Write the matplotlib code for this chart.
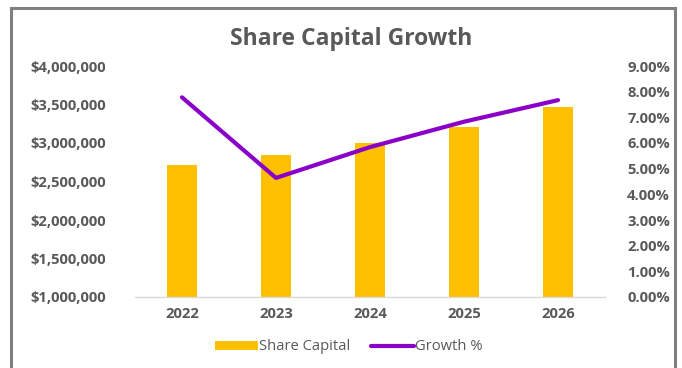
import numpy as np
import matplotlib.pyplot as plt
from matplotlib.patches import Rectangle
from matplotlib.ticker import FuncFormatter

years = ['2022', '2023', '2024', '2025', '2026']
share_capital = [2714000, 2844000, 3004000, 3210000, 3470000]
growth_pct = [7.78, 4.64, 5.84, 6.83, 7.67]

text_grey = '#595959'
plt.rcParams['font.family'] = ['Open Sans', 'DejaVu Sans']

fig = plt.figure(figsize=(6.82, 3.68), dpi=100)
fig.patch.set_facecolor('white')

# outer chart border
fig.patches.append(Rectangle((11 / 682, -0.05), 664 / 682, 1 - 8 / 368 + 0.05,
                             transform=fig.transFigure, fill=False,
                             edgecolor='#7f7f7f', linewidth=2.2))

ax = fig.add_axes([135 / 682, 1 - 297 / 368, 470 / 682, 231 / 368])
x = np.arange(len(years))
bars = ax.bar(x, share_capital, width=0.32, color='#FFC000', label='Share Capital',
              zorder=2)
ax.set_xlim(-0.5, 4.5)
ax.set_ylim(1000000, 4000000)
ax.set_yticks(np.arange(1000000, 4000001, 500000))
ax.yaxis.set_major_formatter(FuncFormatter(lambda v, p: f'${v:,.0f}'))
ax.set_xticks(x)
ax.set_xticklabels(years)

for s in ['top', 'right', 'left']:
    ax.spines[s].set_visible(False)
ax.spines['bottom'].set_color('#d9d9d9')
ax.spines['bottom'].set_linewidth(1.0)
ax.tick_params(axis='both', length=0, labelcolor=text_grey, labelsize=10.6)
ax.tick_params(axis='y', pad=21)
ax.tick_params(axis='x', pad=7.5)
for lab in ax.get_xticklabels() + ax.get_yticklabels():
    lab.set_fontweight('bold')

ax2 = ax.twinx()
line, = ax2.plot(x, growth_pct, color='#8B00C9', linewidth=3.0, label='Growth %',
                 solid_capstyle='round', zorder=3)
ax2.set_ylim(0, 9)
ax2.set_yticks(np.arange(0, 9.01, 1))
ax2.yaxis.set_major_formatter(FuncFormatter(lambda v, p: f'{v:.2f}%'))
for s in ['top', 'right', 'left', 'bottom']:
    ax2.spines[s].set_visible(False)
ax2.tick_params(axis='y', length=0, labelcolor=text_grey, labelsize=10.6, pad=16)
for lab in ax2.get_yticklabels():
    lab.set_fontweight('bold')

fig.text(0.515, 1 - 39 / 368, 'Share Capital Growth', ha='center', va='center',
         fontsize=16.5, fontweight='bold', color=text_grey)

fig.legend([bars, line], ['Share Capital', 'Growth %'], loc='center',
           bbox_to_anchor=(0.512, 1 - 347 / 368), ncol=2, frameon=False,
           fontsize=10.6, labelcolor=text_grey, handlelength=2.9,
           handletextpad=0.1, columnspacing=1.4, handleheight=0.55)

fig.savefig('out.png', dpi=100)
